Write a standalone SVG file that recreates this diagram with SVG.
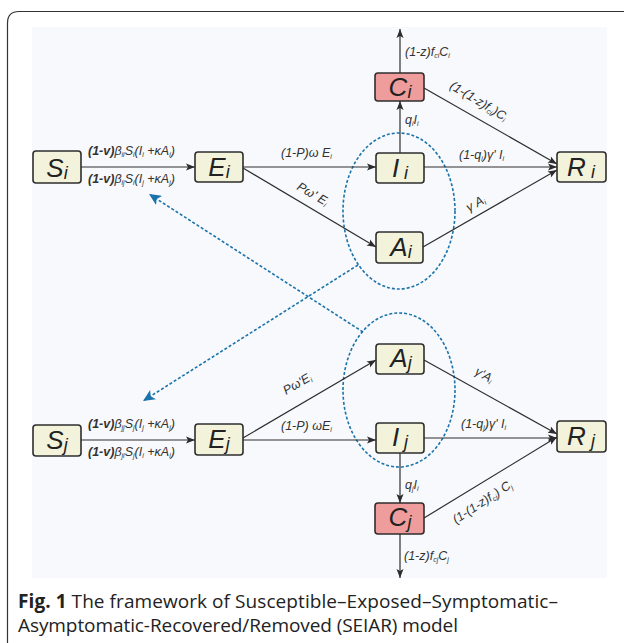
<svg xmlns="http://www.w3.org/2000/svg" width="624" height="643" viewBox="0 0 624 643">
<style>
.node{fill:#f3f3dc;stroke:#2e2e2e;stroke-width:1.6}
.cnode{fill:#ef9c9c;stroke:#2e2e2e;stroke-width:1.6}
.nl{font-family:"Liberation Sans",Arial,sans-serif;font-style:italic;font-size:26px;fill:#222;text-anchor:middle}
.nl tspan{font-size:18px}
.edge{stroke:#2e2e2e;stroke-width:1.2;fill:none;marker-end:url(#ah)}
.blue{stroke:#1a73aa;stroke-width:1.6;fill:none;stroke-dasharray:3 2}
.el{font-family:"Liberation Sans",Arial,sans-serif;font-style:italic;font-size:12.5px;fill:#333}
.sb{font-size:7px}
.cap{font-family:"Open Sans","Noto Sans",sans-serif;font-size:19px;fill:#222}
</style>
<defs>
<marker id="ah" markerWidth="10" markerHeight="8" refX="9" refY="4" orient="auto" markerUnits="userSpaceOnUse"><path d="M0,0.5 L9,4 L0,7.5 L2,4 z" fill="#2b2b2b"/></marker>
<marker id="bh" markerWidth="13" markerHeight="11" refX="12" refY="5.5" orient="auto" markerUnits="userSpaceOnUse"><path d="M0,0 L12,5.5 L0,11 L3,5.5 z" fill="#1a73aa"/></marker>
</defs>
<rect width="624" height="643" fill="#ffffff"/>
<path d="M7.5,643 V23 Q7.5,11.5 19,11.5 H624" fill="none" stroke="#333" stroke-width="1.2"/>
<rect x="32" y="27" width="575" height="551" fill="#f8f9fc"/>

<g id="ellipses">
<ellipse cx="399" cy="211" rx="56" ry="78" class="blue"/>
<ellipse cx="399" cy="390" rx="56" ry="77" class="blue"/>
</g>

<g id="connectors">
<path class="edge" d="M81,167 H195"/>
<path class="edge" d="M243,167 H376"/>
<path class="edge" d="M424,167 H557"/>
<path class="edge" d="M243,168 L376,247"/>
<path class="edge" d="M423,247 L557,170"/>
<path class="edge" d="M400,153 V101"/>
<path class="edge" d="M400,73 V29"/>
<path class="edge" d="M424,88 L557,164"/>
<path class="edge" d="M81,440 H195"/>
<path class="edge" d="M243,440 H376"/>
<path class="edge" d="M424,438 H557"/>
<path class="edge" d="M243,438 L376,360"/>
<path class="edge" d="M424,360 L557,434"/>
<path class="edge" d="M400,453 V503"/>
<path class="edge" d="M400,534 V578"/>
<path class="edge" d="M424,518 L557,437"/>
<path class="blue" d="M363,332 L149,194" marker-end="url(#bh)"/>
<path class="blue" d="M358,265 L143,401" marker-end="url(#bh)"/>
</g>

<g id="edge-labels">
<text class="el" x="88" y="155"><tspan font-weight="bold">(1-v)</tspan>β<tspan class="sb" dy="2">ii</tspan><tspan dy="-2">S</tspan><tspan class="sb" dy="2">i</tspan><tspan dy="-2">(I</tspan><tspan class="sb" dy="2">i</tspan><tspan dy="-2"> +κA</tspan><tspan class="sb" dy="2">i</tspan><tspan dy="-2">)</tspan></text>
<text class="el" x="88" y="183"><tspan font-weight="bold">(1-v)</tspan>β<tspan class="sb" dy="2">ij</tspan><tspan dy="-2">S</tspan><tspan class="sb" dy="2">i</tspan><tspan dy="-2">(I</tspan><tspan class="sb" dy="2">j</tspan><tspan dy="-2"> +κA</tspan><tspan class="sb" dy="2">j</tspan><tspan dy="-2">)</tspan></text>
<text class="el" x="88" y="428"><tspan font-weight="bold">(1-v)</tspan>β<tspan class="sb" dy="2">jj</tspan><tspan dy="-2">S</tspan><tspan class="sb" dy="2">j</tspan><tspan dy="-2">(I</tspan><tspan class="sb" dy="2">j</tspan><tspan dy="-2"> +κA</tspan><tspan class="sb" dy="2">j</tspan><tspan dy="-2">)</tspan></text>
<text class="el" x="88" y="456"><tspan font-weight="bold">(1-v)</tspan>β<tspan class="sb" dy="2">ji</tspan><tspan dy="-2">S</tspan><tspan class="sb" dy="2">j</tspan><tspan dy="-2">(I</tspan><tspan class="sb" dy="2">i</tspan><tspan dy="-2"> +κA</tspan><tspan class="sb" dy="2">i</tspan><tspan dy="-2">)</tspan></text>
<text class="el" x="281" y="157">(1-P)ω E<tspan class="sb" dy="2">i</tspan></text>
<text class="el" x="281" y="430">(1-P) ωE<tspan class="sb" dy="2">i</tspan></text>
<text class="el" x="459" y="159">(1-q<tspan class="sb" dy="2">i</tspan><tspan dy="-2">)γ' I</tspan><tspan class="sb" dy="2">i</tspan></text>
<text class="el" x="461" y="428">(1-q<tspan class="sb" dy="2">j</tspan><tspan dy="-2">)γ' I</tspan><tspan class="sb" dy="2">i</tspan></text>
<text class="el" x="405" y="124">q<tspan class="sb" dy="2">i</tspan><tspan dy="-2">I</tspan><tspan class="sb" dy="2">i</tspan></text>
<text class="el" x="405" y="489">q<tspan class="sb" dy="2">j</tspan><tspan dy="-2">I</tspan><tspan class="sb" dy="2">i</tspan></text>
<text class="el" x="405" y="56">(1-z)f<tspan class="sb" dy="2">ci</tspan><tspan dy="-2">C</tspan><tspan class="sb" dy="2">i</tspan></text>
<text class="el" x="404" y="560">(1-z)f<tspan class="sb" dy="2">cj</tspan><tspan dy="-2">C</tspan><tspan class="sb" dy="2">j</tspan></text>
<text class="el" transform="translate(449,88) rotate(31)">(1-(1-z)f<tspan class="sb" dy="2">ci</tspan><tspan dy="-2">)C</tspan><tspan class="sb" dy="2">i</tspan></text>
<text class="el" transform="translate(456,524) rotate(-33)">(1-(1-z)f<tspan class="sb" dy="2">cj</tspan><tspan dy="-2">) C</tspan><tspan class="sb" dy="2">j</tspan></text>
<text class="el" transform="translate(296,189) rotate(30)">Pω' E<tspan class="sb" dy="2">i</tspan></text>
<text class="el" transform="translate(286,395) rotate(-30)">Pω'E<tspan class="sb" dy="2">i</tspan></text>
<text class="el" transform="translate(469,212) rotate(-30)">γ A<tspan class="sb" dy="2">i</tspan></text>
<text class="el" transform="translate(474,374) rotate(29)">γ'A<tspan class="sb" dy="2">i</tspan></text>
</g>

<g id="Si"><rect class="node" x="33" y="151" width="48" height="32" rx="3"/><text class="nl" x="57" y="177">S<tspan dy="2">i</tspan></text></g>
<g id="Ei"><rect class="node" x="195" y="152" width="48" height="30" rx="3"/><text class="nl" x="219" y="176">E<tspan dy="2">i</tspan></text></g>
<g id="Ii"><rect class="node" x="376" y="153" width="48" height="30" rx="3"/><text class="nl" x="400" y="177">I<tspan dy="2"> i</tspan></text></g>
<g id="Ai"><rect class="node" x="376" y="232" width="47" height="31" rx="3"/><text class="nl" x="401" y="256">A<tspan dy="2">i</tspan></text></g>
<g id="Ci"><rect class="cnode" x="375" y="73" width="49" height="28" rx="3"/><text class="nl" x="400" y="96">C<tspan dy="2">i</tspan></text></g>
<g id="Ri"><rect class="node" x="557" y="152" width="49" height="30" rx="3"/><text class="nl" x="581" y="176">R<tspan dy="2"> i</tspan></text></g>
<g id="Sj"><rect class="node" x="33" y="425" width="48" height="31" rx="3"/><text class="nl" x="57" y="449">S<tspan dy="2">j</tspan></text></g>
<g id="Ej"><rect class="node" x="195" y="424" width="48" height="31" rx="3"/><text class="nl" x="219" y="448">E<tspan dy="2">j</tspan></text></g>
<g id="Ij"><rect class="node" x="376" y="423" width="48" height="30" rx="3"/><text class="nl" x="400" y="446">I<tspan dy="2"> j</tspan></text></g>
<g id="Aj"><rect class="node" x="376" y="344" width="48" height="30" rx="3"/><text class="nl" x="401" y="367">A<tspan dy="2">j</tspan></text></g>
<g id="Cj"><rect class="cnode" x="375" y="503" width="49" height="31" rx="3"/><text class="nl" x="400" y="526">C<tspan dy="2">j</tspan></text></g>
<g id="Rj"><rect class="node" x="557" y="421" width="49" height="31" rx="3"/><text class="nl" x="581" y="445">R<tspan dy="2"> j</tspan></text></g>

<g id="caption">
<text class="cap" x="18" y="608" textLength="540" lengthAdjust="spacing"><tspan font-weight="bold">Fig. 1</tspan>  The framework of Susceptible–Exposed–Symptomatic–</text>
<text class="cap" x="18" y="632" textLength="440" lengthAdjust="spacing">Asymptomatic-Recovered/Removed (SEIAR) model</text>
</g>
</svg>
